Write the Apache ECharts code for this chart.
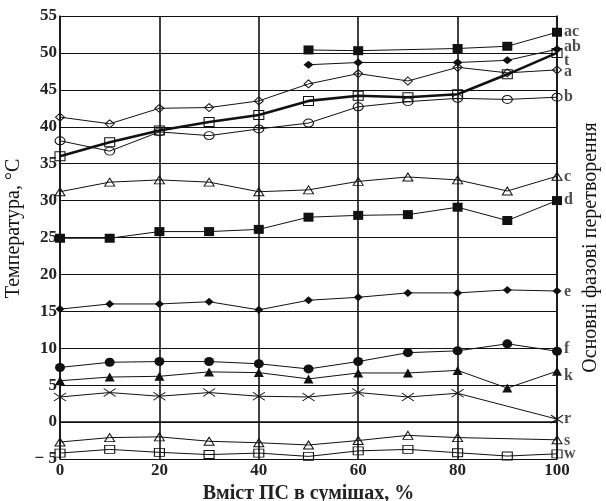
<!DOCTYPE html>
<html>
<head>
<meta charset="utf-8">
<script src="https://cdn.jsdelivr.net/npm/echarts@6/dist/echarts.min.js"></script>
<style>html,body{margin:0;padding:0;background:#fff;}#c{width:606px;height:501px;}</style>
</head>
<body>
<div id="c"></div>
<script>
const xs = [0, 10, 20, 30, 40, 50, 60, 70, 80, 90, 100];
const ac = [null, null, null, null, null, 50.4, 50.3, null, 50.6, 50.9, 52.8];
const t  = [null, null, null, null, null, 48.4, 48.7, null, 48.7, 49.0, 50.5];
const a  = [41.3, 40.4, 42.5, 42.6, 43.5, 45.8, 47.2, 46.2, 48.05, 47.3, 47.7];
const ab = [36.0, 37.9, 39.5, 40.65, 41.6, 43.5, 44.2, 44.0, 44.4, 47.1, 50.0];
const b  = [38.1, 36.7, 39.3, 38.8, 39.7, 40.5, 42.7, 43.4, 43.85, 43.7, 44.0];
const c  = [31.2, 32.5, 32.8, 32.5, 31.2, 31.45, 32.6, 33.2, 32.8, 31.3, 33.3];
const d  = [24.9, 24.9, 25.8, 25.8, 26.1, 27.75, 28.0, 28.1, 29.1, 27.3, 30.0];
const e  = [15.3, 16.0, 16.0, 16.3, 15.2, 16.5, 16.9, 17.5, 17.5, 17.9, 17.75];
const f  = [7.4, 8.1, 8.2, 8.2, 7.9, 7.2, 8.2, 9.4, 9.65, 10.6, 9.6];
const k  = [5.6, 6.1, 6.2, 6.8, 6.7, 5.85, 6.65, 6.65, 7.0, 4.6, 6.9];
const r  = [3.4, 4.0, 3.5, 4.0, 3.5, 3.4, 4.0, 3.4, 3.9, null, 0.4];
const s  = [-2.7, -2.1, -2.0, -2.6, -2.8, -3.1, -2.5, -1.8, -2.1, null, -2.4];
const w  = [-4.2, -3.7, -4.1, -4.4, -4.2, -4.65, -3.9, -3.7, -4.15, -4.6, -4.3];

const phaseNames  = ['ac', 'ab', 't', 'a', 'b', 'c', 'd', 'e', 'f', 'k', 'r', 's', 'w'];
const phaseLabelY = [52.8, 50.8, 48.9, 47.4, 44.0, 33.25, 30.1, 17.7, 9.9, 6.3, 0.5, -2.6, -4.3];

const xTicks = [0, 20, 40, 60, 80, 100];
const yTicks = [-5, 0, 5, 10, 15, 20, 25, 30, 35, 40, 45, 50, 55];

const FONT = '"Liberation Serif", "DejaVu Serif", serif';
const INK = '#111';

function pts(arr) { return xs.map((x, i) => [x, arr[i]]); }

const filled = { color: INK, borderWidth: 0 };
const open = { color: 'rgba(0,0,0,0)', borderColor: INK, borderWidth: 1 };

function ser(name, arr, symbol, size, style, lw) {
  return {
    name: name, type: 'line', data: pts(arr), connectNulls: true,
    symbol: symbol, symbolSize: size, showAllSymbol: true,
    lineStyle: { color: INK, width: lw || 1 },
    itemStyle: style, z: 3, animation: false, clip: false
  };
}

const crossPath = 'path://M0,0L12,8M12,0L0,8';

const series = [
  ser('ac', ac, 'rect', [10, 9], filled),
  ser('t', t, 'diamond', [10, 8], filled),
  ser('a', a, 'diamond', [9, 8], open),
  ser('ab', ab, 'rect', [10, 9], open, 2.6),
  ser('b', b, 'circle', [10, 8], open),
  ser('c', c, 'triangle', [10, 8], open),
  ser('d', d, 'rect', [10, 9], filled),
  ser('e', e, 'diamond', [9, 8], filled),
  ser('f', f, 'circle', [10, 9], filled),
  ser('k', k, 'triangle', [10, 9], filled),
  ser('r', r, crossPath, [12, 8], open),
  ser('s', s, 'triangle', [10, 8], open),
  ser('w', w, 'rect', [10, 8], open),
  {
    type: 'scatter', symbolSize: 0, z: 5, silent: true, animation: false,
    data: phaseNames.map((n, i) => ({ name: n, value: [100, phaseLabelY[i]] })),
    label: {
      show: true, position: 'right', distance: 7,
      formatter: p => p.name,
      fontFamily: FONT, fontWeight: 'bold', fontSize: 16, color: '#222'
    }
  }
];

const chart = echarts.init(document.getElementById('c'), null, { renderer: 'canvas' });
chart.setOption({
  backgroundColor: '#fff',
  animation: false,
  grid: { left: 60, right: 49, top: 16, bottom: 42, containLabel: false, outerBoundsMode: 'none' },
  xAxis: {
    type: 'value', min: xTicks[0], max: xTicks[xTicks.length - 1], interval: 20,
    name: 'Вміст ПС в сумішах, %', nameLocation: 'middle', nameGap: 21,
    nameTextStyle: { fontFamily: FONT, fontWeight: 'bold', fontSize: 20, color: '#222' },
    axisLine: { show: true, lineStyle: { color: INK, width: 1.5 } },
    axisTick: { show: false },
    axisLabel: { fontFamily: FONT, fontWeight: 'bold', fontSize: 17, color: '#222', margin: 3 },
    splitLine: { show: true, lineStyle: { color: INK, width: 1.6 } }
  },
  yAxis: [{
    type: 'value', min: yTicks[0], max: yTicks[yTicks.length - 1], interval: 5,
    name: 'Температура, °C', nameLocation: 'middle', nameGap: 33, nameRotate: 90,
    nameTextStyle: { fontFamily: FONT, fontSize: 20, color: '#111', padding: [0, 0, 0, 18] },
    axisLine: { show: true, lineStyle: { color: INK, width: 1.5 } },
    axisTick: { show: false },
    axisLabel: {
      fontFamily: FONT, fontWeight: 'bold', fontSize: 17, color: '#222', margin: 3,
      formatter: v => v < 0 ? '\u2212 ' + Math.abs(v) : String(v)
    },
    splitLine: { show: true, lineStyle: { color: INK, width: 1.2 } }
  }, {
    type: 'value', position: 'right', min: yTicks[0], max: yTicks[yTicks.length - 1],
    name: 'Основні фазові перетворення', nameLocation: 'middle', nameGap: 24, nameRotate: 90,
    nameTextStyle: { fontFamily: FONT, fontSize: 20, color: '#111', padding: [0, 20, 0, 0] },
    axisLine: { show: true, lineStyle: { color: INK, width: 1.5 } },
    axisTick: { show: false }, axisLabel: { show: false }, splitLine: { show: false }
  }],
  series: series
});
</script>
</body>
</html>
